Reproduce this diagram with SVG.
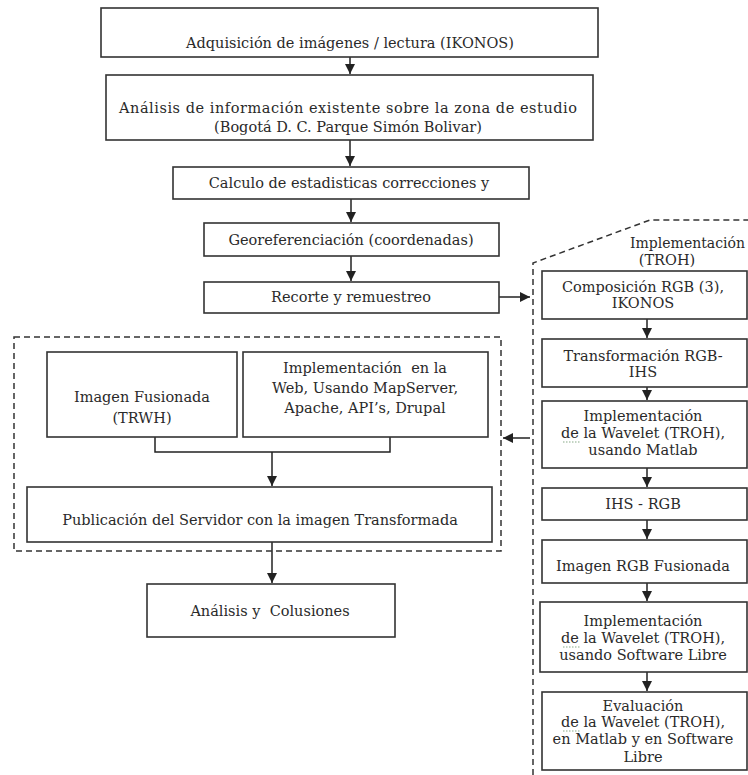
<svg xmlns="http://www.w3.org/2000/svg" width="748" height="775" viewBox="0 0 748 775">
<defs>
<style>
.box{fill:#fff;stroke:#333;stroke-width:1.6}
.dash{fill:none;stroke:#333;stroke-width:1.5;stroke-dasharray:6 4}
.conn{fill:none;stroke:#222;stroke-width:1.5}
.t{font-family:"DejaVu Serif","Liberation Serif",serif;font-size:14.5px;fill:#2a2a2a;text-anchor:middle}
.ts{font-family:"DejaVu Serif","Liberation Serif",serif;font-size:14.5px;fill:#2a2a2a}
.sq{fill:none;stroke:#8a8;stroke-width:1.2;stroke-dasharray:1.5 1.5}
</style>
<marker id="ah" markerUnits="userSpaceOnUse" markerWidth="11" markerHeight="10" refX="10" refY="5" orient="auto">
<path d="M0,0 L10,5 L0,10 z" fill="#222"/>
</marker>
</defs>
<rect width="748" height="775" fill="#fff"/>

<g id="connectors">
<path class="conn" d="M350,57 V74" marker-end="url(#ah)"/>
<path class="conn" d="M350,140 V166" marker-end="url(#ah)"/>
<path class="conn" d="M351,199 V222" marker-end="url(#ah)"/>
<path class="conn" d="M351,256 V281" marker-end="url(#ah)"/>
<path class="conn" d="M499,297 H530" marker-end="url(#ah)"/>
<path class="conn" d="M647,319 V338" marker-end="url(#ah)"/>
<path class="conn" d="M647,387 V400" marker-end="url(#ah)"/>
<path class="conn" d="M647,468 V487" marker-end="url(#ah)"/>
<path class="conn" d="M647,520 V539" marker-end="url(#ah)"/>
<path class="conn" d="M647,583 V601" marker-end="url(#ah)"/>
<path class="conn" d="M647,672 V691" marker-end="url(#ah)"/>
<path class="conn" d="M530,438 H503" marker-end="url(#ah)"/>
<path class="conn" d="M155,437 V452 H390 V437"/>
<path class="conn" d="M272,452 V486" marker-end="url(#ah)"/>
<path class="conn" d="M272,542 V583" marker-end="url(#ah)"/>
</g>

<g id="group-troh">
<path class="dash" d="M533,775 V263 L650,220 H748"/>
<text class="ts" x="630" y="248" textLength="115" lengthAdjust="spacingAndGlyphs">Implementación</text>
<text class="t" x="667" y="265">(TROH)</text>
</g>

<g id="group-web">
<rect class="dash" x="14" y="337" width="487" height="214"/>
</g>

<g id="n1">
<rect class="box" x="101" y="8" width="497" height="49"/>
<text class="t" x="350" y="48">Adquisición de imágenes / lectura (IKONOS)</text>
</g>
<g id="n2">
<rect class="box" x="106" y="75" width="487" height="65"/>
<text class="t" x="348" y="113" textLength="458">Análisis de información existente sobre la zona de estudio</text>
<text class="t" x="348" y="132">(Bogotá D. C. Parque Simón Bolivar)</text>
</g>
<g id="n3">
<rect class="box" x="173" y="167" width="356" height="32"/>
<text class="t" x="349" y="188">Calculo de estadisticas correcciones y</text>
</g>
<g id="n4">
<rect class="box" x="204" y="223" width="295" height="33"/>
<text class="t" x="351" y="245">Georeferenciación (coordenadas)</text>
</g>
<g id="n5">
<rect class="box" x="204" y="282" width="295" height="31"/>
<text class="t" x="351" y="302">Recorte y remuestreo</text>
</g>

<g id="r1">
<rect class="box" x="542" y="271" width="205" height="48"/>
<text class="t" x="643" y="292">Composición RGB (3),</text>
<text class="t" x="643" y="308">IKONOS</text>
</g>
<g id="r2">
<rect class="box" x="542" y="339" width="205" height="48"/>
<text class="t" x="643" y="361">Transformación RGB-</text>
<text class="t" x="643" y="377">IHS</text>
</g>
<g id="r3">
<rect class="box" x="542" y="401" width="205" height="67"/>
<text class="t" x="643" y="421">Implementación</text>
<text class="t" x="643" y="438">de la Wavelet (TROH),</text>
<text class="t" x="643" y="455">usando Matlab</text>
<path class="sq" d="M563,442 h17"/>
</g>
<g id="r4">
<rect class="box" x="542" y="488" width="205" height="32"/>
<text class="t" x="643" y="509">IHS - RGB</text>
</g>
<g id="r5">
<rect class="box" x="542" y="540" width="205" height="43"/>
<text class="t" x="643" y="571">Imagen RGB Fusionada</text>
</g>
<g id="r6">
<rect class="box" x="540" y="602" width="207" height="70"/>
<text class="t" x="643" y="626">Implementación</text>
<text class="t" x="643" y="643">de la Wavelet (TROH),</text>
<text class="t" x="643" y="660">usando Software Libre</text>
<path class="sq" d="M563,647 h17"/>
</g>
<g id="r7">
<rect class="box" x="542" y="692" width="205" height="78"/>
<text class="t" x="643" y="711">Evaluación</text>
<text class="t" x="643" y="727">de la Wavelet (TROH),</text>
<text class="t" x="643" y="744">en Matlab y en Software</text>
<text class="t" x="643" y="762">Libre</text>
<path class="sq" d="M563,731 h17"/>
</g>

<g id="l1">
<rect class="box" x="47" y="352" width="190" height="85"/>
<text class="t" x="142" y="402">Imagen Fusionada</text>
<text class="t" x="142" y="423">(TRWH)</text>
</g>
<g id="l2">
<rect class="box" x="243" y="352" width="245" height="85"/>
<text class="t" x="365" y="373">Implementación&#160; en la</text>
<text class="t" x="365" y="393">Web, Usando MapServer,</text>
<text class="t" x="365" y="413">Apache, API’s, Drupal</text>
</g>
<g id="l3">
<rect class="box" x="27" y="487" width="465" height="55"/>
<text class="t" x="260" y="525">Publicación del Servidor con la imagen Transformada</text>
</g>
<g id="l4">
<rect class="box" x="147" y="584" width="248" height="53"/>
<text class="t" x="270" y="616">Análisis y&#160; Colusiones</text>
</g>
</svg>
